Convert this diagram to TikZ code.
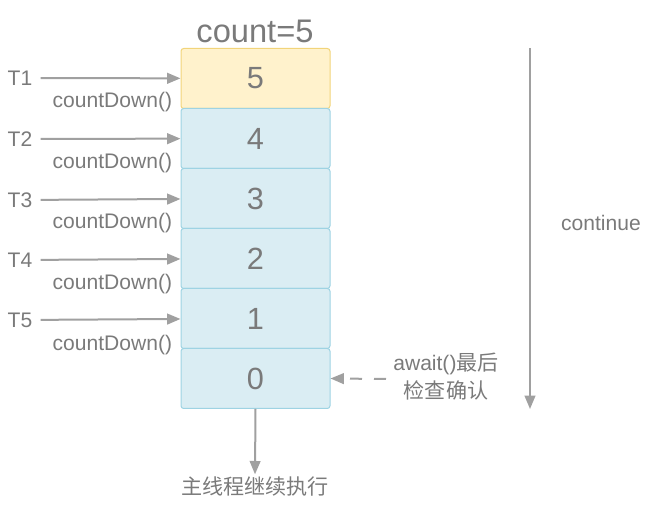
\documentclass[tikz,border=0pt]{standalone}
\usepackage{fontspec}
\setmainfont{Liberation Sans}
\newfontfamily\cjk{Noto Sans CJK SC}
\usetikzlibrary{arrows.meta}
\definecolor{txtgray}{HTML}{7A7A7A}
\definecolor{arrgray}{HTML}{A0A0A0}
\definecolor{yelfill}{HTML}{FFF2CC}
\definecolor{yeldraw}{HTML}{F2D47A}
\definecolor{bluefill}{HTML}{DAEDF3}
\definecolor{bluedraw}{HTML}{9ED3E3}
\tikzset{
  cell/.style={draw=bluedraw, fill=bluefill, line width=0.75pt, rounded corners=2pt,
    minimum width=111.75pt, minimum height=45pt, inner sep=0pt,
    font=\fontsize{23}{23}\selectfont, text=txtgray},
  topcell/.style={cell, draw=yeldraw, fill=yelfill},
  lbl/.style={font=\fontsize{15.8}{18}\selectfont, text=txtgray, inner sep=2pt},
  arr/.style={draw=arrgray, line width=1.5pt, -{Triangle[length=10pt,width=8pt]}}
}
\begin{document}
\begin{tikzpicture}[x=0.75pt, y=-0.75pt]
    \useasboundingbox (0,0) rectangle (658,516);

    % 計數器的格子
    \node[topcell] (b5) at (255.5, 78.5) {5};
    \node[cell] (b4) at (255.5, 138.5) {4};
    \node[cell] (b3) at (255.5, 198.5) {3};
    \node[cell] (b2) at (255.5, 258.5) {2};
    \node[cell] (b1) at (255.5, 318.5) {1};
    \node[cell] (b0) at (255.5, 378.5) {0};
    \node[font=\fontsize{24.5}{24}\selectfont, text=txtgray] (title) at (255, 31) {count=5};

    % 線程
    \node[lbl] (t1) at (20, 78) {T1};
    \node[lbl] (t2) at (20, 139) {T2};
    \node[lbl] (t3) at (20, 200) {T3};
    \node[lbl] (t4) at (20, 260) {T4};
    \node[lbl] (t5) at (20, 320) {T5};
    \node[lbl, anchor=east] (d1) at (175, 102) {countDown()};
    \node[lbl, anchor=east] (d2) at (175, 163) {countDown()};
    \node[lbl, anchor=east] (d3) at (175, 223) {countDown()};
    \node[lbl, anchor=east] (d4) at (175, 284) {countDown()};
    \node[lbl, anchor=east] (d5) at (175, 345) {countDown()};

    % 右側
    \coordinate (ctop) at (530, 48);
    \coordinate (cbot) at (530, 409);
    \coordinate (dstart) at (386, 379);
    \node[lbl] (cont) at (601, 223) {continue};
    \node[lbl, align=center] (await) at (446, 377) {await()\cjk 最后\\[3pt]\cjk 检查确认};
    \node[lbl, font=\cjk\fontsize{15.8}{18}\selectfont] (main) at (255, 487) {主线程继续执行};

    % 畫出箭頭
    \draw[arr, shorten <=4pt] (t1) -- (b5);
    \draw[arr, shorten <=4pt] (t2) -- (b4);
    \draw[arr, shorten <=4pt] (t3) -- (b3);
    \draw[arr, shorten <=4pt] (t4) -- (b2);
    \draw[arr, shorten <=4pt] (t5) -- (b1);
    \draw[arr] (ctop) -- (cbot);
    \draw[arr, dash pattern=on 9pt off 9pt] (dstart) -- (b0.east);
    \draw[arr] (b0.south) -- (main.north);
\end{tikzpicture}
\end{document}
